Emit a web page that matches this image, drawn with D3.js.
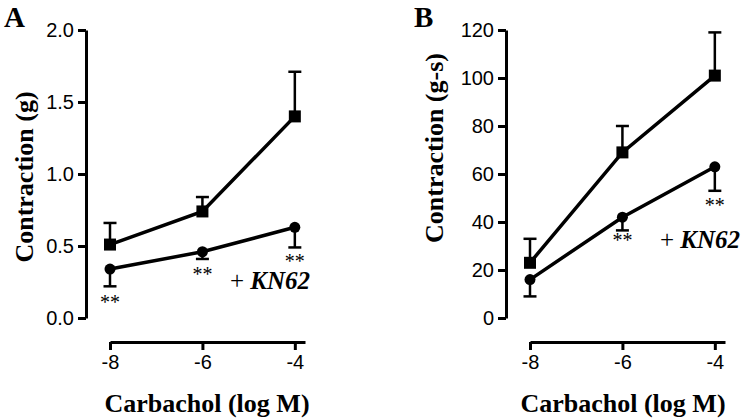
<!DOCTYPE html>
<html><head><meta charset="utf-8">
<script src="https://cdn.jsdelivr.net/npm/d3@7"></script>
<style>body{margin:0;background:#fff}svg{display:block}</style>
</head><body>
<script>
const doses = [-8, -6, -4];
const xTicks = [-8, -6, -4];
// Panel A: Contraction (g)
const aControl = [0.51, 0.74, 1.40];
const aControlErr = [0.15, 0.10, 0.31];
const aKN62 = [0.34, 0.46, 0.63];
const aKN62Err = [0.12, 0.05, 0.14];
const aTicks = [0.0, 0.5, 1.0, 1.5, 2.0];
// Panel B: Contraction (g-s)
const bControl = [23, 69, 101];
const bControlErr = [10, 11, 18];
const bKN62 = [16, 42, 63];
const bKN62Err = [7, 5.5, 10];
const bTicks = [0, 20, 40, 60, 80, 100, 120];

const svg = d3.select("body").append("svg").attr("width", 746).attr("height", 420);
const serif = "'Liberation Serif', 'Times New Roman', serif";
const sans = "Arial, 'Liberation Sans', sans-serif";

function panel(cfg) {
  const g = svg.append("g");
  const x = d3.scaleLinear().domain([-8, -3.78]).range([cfg.x0, cfg.x0 + 195]);
  const y = d3.scaleLinear().domain(cfg.yDomain).range([318, 30]);
  // y axis
  const ya = g.append("g").attr("transform", `translate(${cfg.yAxisX},0)`)
    .call(d3.axisLeft(y).tickValues(cfg.yTicks).tickSize(8).tickSizeOuter(0).tickPadding(4).tickFormat(cfg.fmt));
  ya.select(".domain").attr("stroke-width", 3).attr("stroke", "#000");
  ya.selectAll(".tick line").attr("stroke-width", 3);
  ya.selectAll(".tick text").attr("font-family", sans).attr("font-size", 20).attr("fill", "#000");
  // x axis
  const xa = g.append("g").attr("transform", `translate(0,342)`)
    .call(d3.axisBottom(x).tickValues(xTicks).tickSize(8).tickSizeOuter(0).tickPadding(5).tickFormat(d => d));
  xa.select(".domain").attr("stroke-width", 3).attr("stroke", "#000");
  xa.selectAll(".tick line").attr("stroke-width", 3);
  xa.selectAll(".tick text").attr("font-family", sans).attr("font-size", 20).attr("fill", "#000");

  const line = d3.line().x((d, i) => x(doses[i])).y(d => y(d));
  const capW = 6.5;
  // error bars
  cfg.ctrl.forEach((v, i) => {
    const top = y(v + cfg.ctrlErr[i]);
    g.append("line").attr("x1", x(doses[i])).attr("x2", x(doses[i])).attr("y1", y(v)).attr("y2", top).attr("stroke", "#000").attr("stroke-width", 2.5);
    g.append("line").attr("x1", x(doses[i]) - capW).attr("x2", x(doses[i]) + capW).attr("y1", top).attr("y2", top).attr("stroke", "#000").attr("stroke-width", 2.5);
  });
  cfg.kn.forEach((v, i) => {
    const bot = y(v - cfg.knErr[i]);
    g.append("line").attr("x1", x(doses[i])).attr("x2", x(doses[i])).attr("y1", y(v)).attr("y2", bot).attr("stroke", "#000").attr("stroke-width", 2.5);
    g.append("line").attr("x1", x(doses[i]) - capW).attr("x2", x(doses[i]) + capW).attr("y1", bot).attr("y2", bot).attr("stroke", "#000").attr("stroke-width", 2.5);
  });
  g.append("path").datum(cfg.ctrl).attr("d", line).attr("fill", "none").attr("stroke", "#000").attr("stroke-width", 3.5);
  g.append("path").datum(cfg.kn).attr("d", line).attr("fill", "none").attr("stroke", "#000").attr("stroke-width", 3.5);
  g.selectAll(null).data(cfg.ctrl).enter().append("rect")
    .attr("x", (d, i) => x(doses[i]) - 6).attr("y", d => y(d) - 6).attr("width", 12).attr("height", 12).attr("fill", "#000");
  g.selectAll(null).data(cfg.kn).enter().append("circle")
    .attr("cx", (d, i) => x(doses[i])).attr("cy", d => y(d)).attr("r", 5.5).attr("fill", "#000");
  // asterisks
  cfg.stars.forEach(s => {
    g.append("text").attr("x", x(s[0])).attr("y", s[1]).attr("text-anchor", "middle")
      .attr("font-family", serif).attr("font-size", 20).text("**");
  });
  const kt = g.append("text").attr("x", cfg.knLabel[0]).attr("y", cfg.knLabel[1])
    .attr("font-family", serif).attr("font-size", 25);
  kt.append("tspan").text("+ ");
  kt.append("tspan").attr("font-weight", "bold").attr("font-style", "italic").text("KN62");
  // titles
  g.append("text").attr("transform", `translate(${cfg.yTitleX},${cfg.yTitleY}) rotate(-90)`).attr("text-anchor", "middle")
    .attr("font-family", serif).attr("font-weight", "bold").attr("font-size", 26)
    .text(cfg.yTitle);
  g.append("text").attr("x", cfg.xTitleX).attr("y", 412).attr("text-anchor", "middle")
    .attr("font-family", serif).attr("font-weight", "bold").attr("font-size", 26)
    .text("Carbachol (log M)");
  g.append("text").attr("x", cfg.letter[0]).attr("y", cfg.letter[1])
    .attr("font-family", serif).attr("font-weight", "bold").attr("font-size", 29)
    .text(cfg.letterText);
}

panel({
  x0: 110, yAxisX: 86, yDomain: [0, 2], yTicks: aTicks, fmt: d3.format(".1f"),
  ctrl: aControl, ctrlErr: aControlErr, kn: aKN62, knErr: aKN62Err,
  stars: [[-8, 309], [-6, 281], [-4, 268]], knLabel: [230, 289],
  yTitle: "Contraction (g)", yTitleX: 33, yTitleY: 177, xTitleX: 207,
  letter: [4, 27], letterText: "A"
});
panel({
  x0: 530, yAxisX: 506, yDomain: [0, 120], yTicks: bTicks, fmt: d3.format("d"),
  ctrl: bControl, ctrlErr: bControlErr, kn: bKN62, knErr: bKN62Err,
  stars: [[-6, 247], [-4, 212]], knLabel: [660, 248],
  yTitle: "Contraction (g-s)", yTitleX: 443, yTitleY: 148, xTitleX: 623,
  letter: [414, 27], letterText: "B"
});
</script>
</body></html>
